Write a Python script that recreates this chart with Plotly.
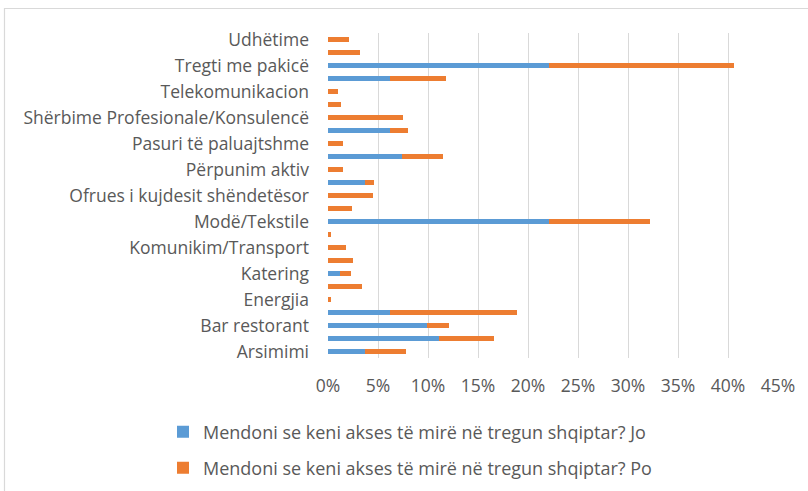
import plotly.graph_objects as go

# Sector labels shown on the axis (every other row, bottom to top)
labels = [
    "Arsimimi", "Bar restorant", "Energjia", "Katering",
    "Komunikim/Transport", "Modë/Tekstile", "Ofrues i kujdesit shëndetësor",
    "Përpunim aktiv", "Pasuri të paluajtshme",
    "Shërbime Profesionale/Konsulencë", "Telekomunikacion",
    "Tregti me pakicë", "Udhëtime",
]
label_rows = [0, 2, 4, 6, 8, 10, 12, 14, 16, 18, 20, 22, 24]

# Row positions (25 sectors, bottom to top)
rows = list(range(25))

# Share of respondents (%) per sector
jo = [3.7, 11.1, 9.9, 6.2, 0, 0, 1.2, 0, 0, 0, 22.1, 0, 0,
      3.7, 0, 7.4, 0, 6.2, 0, 0, 0, 6.2, 22.1, 0, 0]
po = [4.1, 5.5, 2.2, 12.7, 0.3, 3.4, 1.1, 2.5, 1.8, 0.25, 10.1, 2.4, 4.5,
      0.9, 1.5, 4.1, 1.5, 1.8, 7.5, 1.3, 1.0, 5.6, 18.5, 3.2, 2.1]

name_jo = "Mendoni se keni akses të mirë në tregun shqiptar? Jo"
name_po = "Mendoni se keni akses të mirë në tregun shqiptar? Po"

BLUE = "#5B9BD5"
ORANGE = "#ED7D31"
GRID = "#D9D9D9"
TEXT = "#595959"
FONT = "Open Sans"
FS = 17.5

W, H = 808, 491
ML, MR, MT, MB = 328, 30, 33, 133

fig = go.Figure()
fig.add_trace(go.Bar(y=rows, x=jo, orientation="h", name=name_jo,
                     marker=dict(color=BLUE, line=dict(width=0)),
                     width=0.44, legend="legend"))
fig.add_trace(go.Bar(y=rows, x=po, orientation="h", name=name_po,
                     marker=dict(color=ORANGE, line=dict(width=0)),
                     width=0.44, legend="legend2"))

pw = W - ML - MR
ph = H - MT - MB


def px_x(p):
    return (p - ML) / pw


def px_y(p):
    return 1 - (p - MT) / ph


# Light frame around the chart area
fig.add_shape(type="rect", xref="paper", yref="paper",
              x0=px_x(4.5), x1=px_x(W + 20), y0=px_y(H + 20), y1=px_y(8.5),
              line=dict(color=GRID, width=1.2), fillcolor="rgba(0,0,0,0)",
              layer="below")

legend_style = dict(xref="container", yref="container",
                    xanchor="left", yanchor="middle",
                    font=dict(size=18, color=TEXT),
                    bgcolor="rgba(0,0,0,0)")

fig.update_layout(
    width=W, height=H,
    margin=dict(l=ML, r=MR, t=MT, b=MB, autoexpand=False),
    barmode="stack",
    plot_bgcolor="white", paper_bgcolor="white",
    font=dict(family=FONT, size=FS, color=TEXT),
    xaxis=dict(range=[0, 45], dtick=5, ticksuffix="%",
               showgrid=True, gridcolor=GRID, gridwidth=1,
               zeroline=False, showline=False, ticks="",
               ticklabelstandoff=15,
               tickfont=dict(size=FS, color=TEXT), fixedrange=True),
    yaxis=dict(range=[-0.5, 24.5], tickmode="array",
               tickvals=label_rows, ticktext=labels,
               showgrid=False, zeroline=False, showline=False,
               ticks="", ticklabelstandoff=18,
               tickfont=dict(size=FS, color=TEXT), fixedrange=True),
    legend=dict(x=163 / W, y=1 - 432 / H, **legend_style),
    legend2=dict(x=163 / W, y=1 - 468 / H, **legend_style),
    showlegend=True,
)

fig.write_html("out.html")
